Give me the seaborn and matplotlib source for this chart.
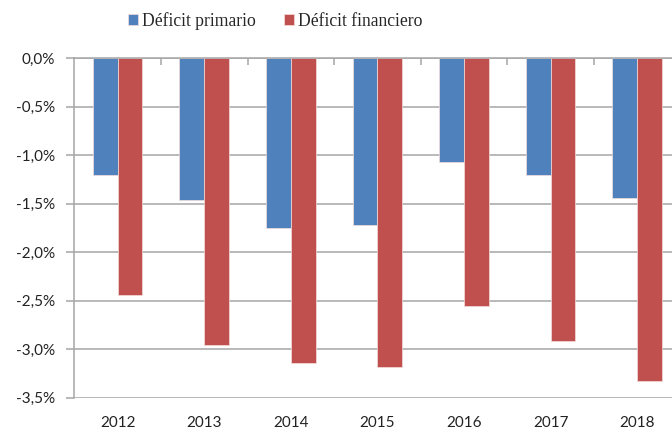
import pandas as pd
import numpy as np
import matplotlib
matplotlib.use('Agg')
import matplotlib.pyplot as plt
import seaborn as sns
from matplotlib.ticker import FuncFormatter, FixedLocator

years = ['2012', '2013', '2014', '2015', '2016', '2017', '2018']
deficit_primario = [-1.20, -1.46, -1.75, -1.72, -1.07, -1.20, -1.44]
deficit_financiero = [-2.44, -2.96, -3.14, -3.18, -2.55, -2.92, -3.33]
series = ['Déficit primario', 'Déficit financiero']
colors = ['#4F81BD', '#C0504D']

df = pd.DataFrame({
    'year': years * 2,
    'serie': [series[0]] * len(years) + [series[1]] * len(years),
    'valor': deficit_primario + deficit_financiero,
})

sns.set_theme(style='white')
plt.rcParams['font.family'] = ['Lato', 'DejaVu Sans']

fig = plt.figure(figsize=(6.72, 4.29), dpi=100)
ax = fig.add_axes([74.3 / 672, 1 - 397.7 / 429, (680.5 - 74.3) / 672, (397.7 - 58.3) / 429])

sns.barplot(data=df, x='year', y='valor', hue='serie', palette=colors,
            width=0.571, saturation=1, edgecolor='#f4dede', linewidth=0.5,
            errorbar=None, ax=ax)

handles, labels = ax.get_legend_handles_labels()
ax.get_legend().remove()

ax.set_ylim(-3.5, 0)
ax.set_xlim(-0.5, len(years) - 0.5)
ax.set_yticks(np.arange(-3.5, 0.01, 0.5))
ax.yaxis.set_major_formatter(FuncFormatter(lambda v, p: f'{v:.1f}%'.replace('.', ',').replace('-0,0', '0,0')))
ax.grid(axis='y', color='#a6a6a6', linewidth=1.1)
ax.set_axisbelow(True)
ax.set_xlabel(None)
ax.set_ylabel(None)

for side in ['right', 'bottom']:
    ax.spines[side].set_visible(False)
for side in ['left', 'top']:
    ax.spines[side].set_color('#a6a6a6')
    ax.spines[side].set_linewidth(1.1)

# category axis sits at 0 with marks between groups
ax.xaxis.set_minor_locator(FixedLocator(np.arange(0.5, len(years) - 0.5, 1)))
ax.tick_params(axis='x', which='major', length=0, pad=13, labelsize=11, labelcolor='#222222')
ax.tick_params(axis='x', which='minor', top=True, bottom=False, direction='in',
               length=5, width=1.1, color='#a6a6a6')
ax.tick_params(axis='y', which='major', left=True, direction='out', length=6,
               width=1.1, color='#a6a6a6', pad=8, labelsize=11, labelcolor='#222222')

fig.legend(handles, labels, loc='center', bbox_to_anchor=(275 / 672, 1 - 21 / 429),
           ncol=2, frameon=False, prop={'family': 'Liberation Serif', 'size': 12.7},
           handlelength=0.6, handleheight=0.6, handletextpad=0.2, columnspacing=1.6,
           borderpad=0, borderaxespad=0)

fig.savefig('out.png', dpi=100, facecolor='white')
